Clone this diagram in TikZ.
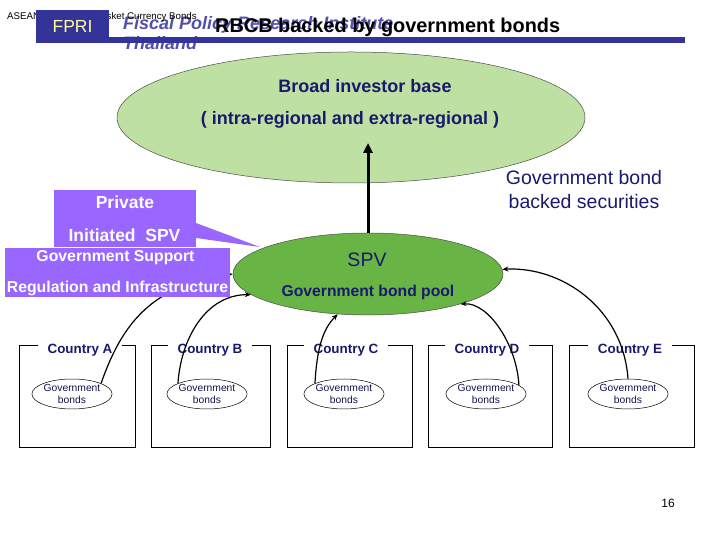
\documentclass[tikz,border=0pt]{standalone}
\usepackage{fontspec}
\setmainfont{Liberation Sans}
\usetikzlibrary{arrows.meta,shapes.geometric}
\definecolor{navy}{RGB}{25,25,110}
\definecolor{fprib}{RGB}{51,51,153}
\definecolor{fpriy}{RGB}{255,255,153}
\definecolor{fiscal}{RGB}{80,80,170}
\definecolor{purp}{RGB}{153,102,255}
\definecolor{lgreen}{RGB}{190,224,162}
\definecolor{dgreen}{RGB}{104,180,68}
\begin{document}
\begin{tikzpicture}[x=1pt,y=1pt,
  countrybox/.style={draw=black, line width=0.9pt},
  ctitle/.style={fill=white, inner xsep=10pt, inner ysep=1pt, font=\fontsize{13.4}{15}\selectfont\bfseries, text=navy},
  gbell/.style={ellipse, draw=black, line width=0.5pt, minimum width=78pt, minimum height=30pt, inner sep=0pt, align=center, font=\fontsize{10.3}{12}\selectfont, text=navy!70!black},
  conn/.style={line width=1.2pt, -{Stealth[length=6pt,width=5pt]}},
  ptext/.style={text=white, font=\fontsize{17.5}{20}\selectfont\bfseries},
  gtext/.style={text=white, font=\fontsize{15.8}{18}\selectfont\bfseries},
  bigtext/.style={text=navy, font=\fontsize{18}{20}\selectfont\bfseries}
]
\useasboundingbox (0,0) rectangle (720,540);

% header
\node[anchor=base west, font=\fontsize{18}{20}\selectfont\bfseries\itshape, text=fiscal, inner sep=0] (fis) at (123,510) {Fiscal Policy Research Institute};
\node[anchor=base west, font=\fontsize{18}{20}\selectfont\bfseries\itshape, text=fiscal, inner sep=0] (thai) at (123,490) {Thailand};
\node[anchor=west, font=\fontsize{9.7}{11}\selectfont, inner sep=0] (hdr) at (7,523) {ASEAN+3 Regional Basket Currency Bonds};
\fill[fprib] (108,497) rectangle (685,503);
\node[fill=fprib, minimum width=73pt, minimum height=33pt, inner sep=0, text=fpriy, font=\fontsize{17.5}{20}\selectfont] (fpri) at (72.5,513.5) {FPRI};
\node[anchor=base west, font=\fontsize{19.9}{22}\selectfont\bfseries, inner sep=0] (title) at (215,507) {RBCB backed by government bonds};

% investor ellipse
\node[ellipse, draw=black!70, line width=0.5pt, fill=lgreen, minimum width=468pt, minimum height=131pt] (inv) at (351,422.5) {};
\node[bigtext] (inv1) at (365,454) {Broad investor base};
\node[bigtext] (inv2) at (350,420) {( intra-regional and extra-regional )};

% SPV
\node[ellipse, draw=black!70, line width=0.5pt, fill=dgreen, minimum width=270pt, minimum height=82pt, inner sep=0] (spv) at (368,266) {};
\node[text=navy, font=\fontsize{19.5}{22}\selectfont] (spvt) at (367,280) {SPV};
\node[text=navy, font=\fontsize{15.7}{18}\selectfont\bfseries] (pool) at (368,248) {Government bond pool};

\coordinate (invin) at (368,397);
\draw[line width=3pt, -{Triangle[length=10pt,width=9pt]}] (spv.north) -- (invin);

\node[align=center, font=\fontsize{19.5}{24}\selectfont, text=navy] (gbbs) at (584,350) {Government bond\\backed securities};

% private SPV callout
\fill[purp] (196,317) -- (260,293) -- (196,302) -- cycle;
\node[fill=purp, minimum width=142pt, minimum height=57pt, inner sep=0] (priv) at (125,321.5) {};
\node[ptext] (priv1) at (125,338) {Private};
\node[ptext] (priv2) at (124.5,305) {Initiated\ \ SPV};

% countries
\foreach \n/\xa/\xb/\cx in {A/19/135/80, B/151/270/210, C/287/412/346, D/428/552/487, E/569/694/630}{
  \draw[countrybox] (\xa,93) rectangle (\xb,195);
  \node[ctitle] (t\n) at (\cx,190) {Country \n};
}
\node[gbell, minimum width=70pt] (ellA) at (72,146) {Government\\bonds};
\node[gbell] (ellB) at (207,146) {Government\\bonds};
\node[gbell] (ellC) at (344,146) {Government\\bonds};
\node[gbell] (ellD) at (486,146) {Government\\bonds};
\node[gbell] (ellE) at (628,146) {Government\\bonds};

% connectors
\draw[conn] (ellA.20) .. controls +(20,57) and +(-83,-11) .. (spv.west);
\draw[conn] (ellB.160) .. controls +(3,45) and +(-45,0) .. (spv.190);
\draw[conn] (ellC.160) .. controls +(2,35) and +(-15,-15) .. (spv.233);
\draw[conn] (ellD.15) .. controls +(-2,40) and +(28,2) .. (spv.342);
\draw[conn] (ellE.north) .. controls +(-5,70) and +(60,3) .. (spv.2);

% government support box (covers connector A)
\node[fill=purp, minimum width=225pt, minimum height=49pt, inner sep=0] (gov) at (117.5,267.5) {};
\node[gtext] (gov1) at (115.5,282) {Government Support};
\node[gtext] (gov2) at (117.5,252) {Regulation and Infrastructure};

\node[font=\fontsize{12}{14}\selectfont] (pg) at (668,37) {16};
\end{tikzpicture}
\end{document}
